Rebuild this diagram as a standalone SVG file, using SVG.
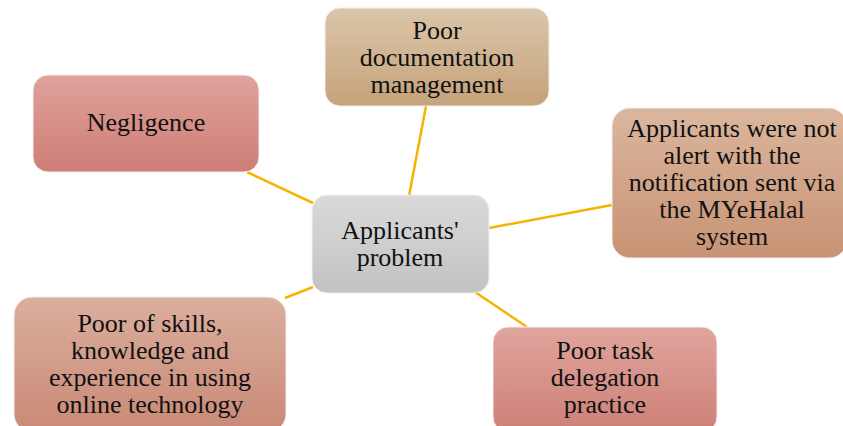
<svg xmlns="http://www.w3.org/2000/svg" width="843" height="426" viewBox="0 0 843 426">
<defs>
<linearGradient id="gNeg" x1="0" y1="0" x2="0" y2="1"><stop offset="0" stop-color="#e0a29c"/><stop offset="1" stop-color="#cd7d75"/></linearGradient>
<linearGradient id="gDoc" x1="0" y1="0" x2="0" y2="1"><stop offset="0" stop-color="#dbc6aa"/><stop offset="1" stop-color="#c5a27a"/></linearGradient>
<linearGradient id="gAlert" x1="0" y1="0" x2="0" y2="1"><stop offset="0" stop-color="#dbb69e"/><stop offset="1" stop-color="#c89374"/></linearGradient>
<linearGradient id="gSkill" x1="0" y1="0" x2="0" y2="1"><stop offset="0" stop-color="#dbae9e"/><stop offset="1" stop-color="#c98a76"/></linearGradient>
<linearGradient id="gTask" x1="0" y1="0" x2="0" y2="1"><stop offset="0" stop-color="#e0a59d"/><stop offset="1" stop-color="#cd8077"/></linearGradient>
<linearGradient id="gCtr" x1="0" y1="0" x2="0" y2="1"><stop offset="0" stop-color="#dadada"/><stop offset="1" stop-color="#c2c2c2"/></linearGradient>
</defs>
<style>
.box{stroke:#f4eeee;stroke-width:1}
.t{font-family:"Liberation Serif","Times New Roman",serif;font-size:26px;fill:#111;text-anchor:middle}
.c{stroke:#f5b400;stroke-width:2.5;fill:none}
</style>
<rect width="843" height="426" fill="#ffffff"/>
<g id="connectors">
<line class="c" x1="247" y1="172" x2="313" y2="203"/>
<line class="c" x1="426" y1="106" x2="409" y2="196"/>
<line class="c" x1="489" y1="228" x2="612" y2="205"/>
<line class="c" x1="285" y1="298" x2="313" y2="287"/>
<line class="c" x1="475" y1="292" x2="527" y2="327"/>
</g>
<g id="center">
<rect class="box" x="312" y="195" width="177" height="98" rx="15" fill="url(#gCtr)"/>
<text class="t" x="400" y="239">Applicants'</text>
<text class="t" x="400" y="266">problem</text>
</g>
<g id="negligence">
<rect class="box" x="33" y="75" width="226" height="97" rx="15" fill="url(#gNeg)"/>
<text class="t" x="146" y="131">Negligence</text>
</g>
<g id="documentation">
<rect class="box" x="325" y="8" width="224" height="98" rx="15" fill="url(#gDoc)"/>
<text class="t" x="437" y="39">Poor</text>
<text class="t" x="437" y="66">documentation</text>
<text class="t" x="437" y="93">management</text>
</g>
<g id="alert">
<rect class="box" x="612" y="108" width="235" height="150" rx="18" fill="url(#gAlert)"/>
<text class="t" x="732" y="137">Applicants were not</text>
<text class="t" x="732" y="164">alert with the</text>
<text class="t" x="732" y="191">notification sent via</text>
<text class="t" x="732" y="218">the MYeHalal</text>
<text class="t" x="732" y="245">system</text>
</g>
<g id="skills">
<rect class="box" x="14" y="297" width="272" height="135" rx="18" fill="url(#gSkill)"/>
<text class="t" x="150" y="332">Poor of skills,</text>
<text class="t" x="150" y="359">knowledge and</text>
<text class="t" x="150" y="386">experience in using</text>
<text class="t" x="150" y="413">online technology</text>
</g>
<g id="task">
<rect class="box" x="493" y="327" width="224" height="105" rx="15" fill="url(#gTask)"/>
<text class="t" x="605" y="359">Poor task</text>
<text class="t" x="605" y="386">delegation</text>
<text class="t" x="605" y="413">practice</text>
</g>
</svg>
